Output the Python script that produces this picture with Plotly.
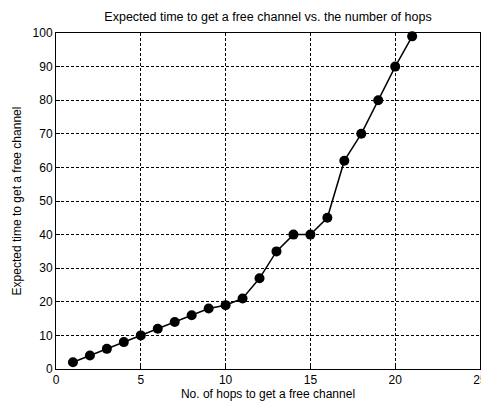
import plotly.graph_objects as go

hops = [1, 2, 3, 4, 5, 6, 7, 8, 9, 10, 11, 12, 13, 14, 15, 16, 17, 18, 19, 20, 21]
times = [2, 4, 6, 8, 10, 12, 14, 16, 18, 19, 21, 27, 35, 40, 40, 45, 62, 70, 80, 90, 99]
x_ticks = [0, 5, 10, 15, 20, 25]
y_ticks = [0, 10, 20, 30, 40, 50, 60, 70, 80, 90, 100]

fig = go.Figure()
fig.add_trace(go.Scatter(
    x=hops, y=times, mode="lines+markers",
    line=dict(color="black", width=1.5),
    marker=dict(color="black", size=10, symbol="circle"),
    showlegend=False,
    cliponaxis=False,
))

axis_common = dict(
    showline=True, linecolor="black", linewidth=1, mirror=True,
    showgrid=True, gridcolor="black", griddash="3px,2px", gridwidth=1,
    ticks="inside", ticklen=4, tickcolor="black",
    zeroline=False, automargin=False, ticklabeloverflow="allow",
    tickfont=dict(family="Liberation Sans, Arial", size=12, color="black"),
    title_font=dict(family="Liberation Sans, Arial", size=12, color="black"),
)

fig.update_layout(
    width=481, height=403,
    margin=dict(l=56, r=1, t=33, b=34),
    paper_bgcolor="white", plot_bgcolor="white",
    title=dict(text="Expected time to get a free channel vs. the number of hops",
               xref="paper", x=0.5, xanchor="center", y=1 - 17/403, yanchor="middle",
               font=dict(family="Liberation Sans, Arial", size=12.5, color="black")),
    xaxis=dict(range=[0, 25], tickvals=x_ticks, title=dict(text="No. of hops to get a free channel", standoff=1), **axis_common),
    yaxis=dict(range=[0, 100], tickvals=y_ticks, title=dict(text="Expected time to get a free channel", standoff=8), **axis_common),
)

fig.write_html("out.html", config={"displayModeBar": False},
               post_script="document.body.style.margin='0';document.body.style.overflow='hidden';")
